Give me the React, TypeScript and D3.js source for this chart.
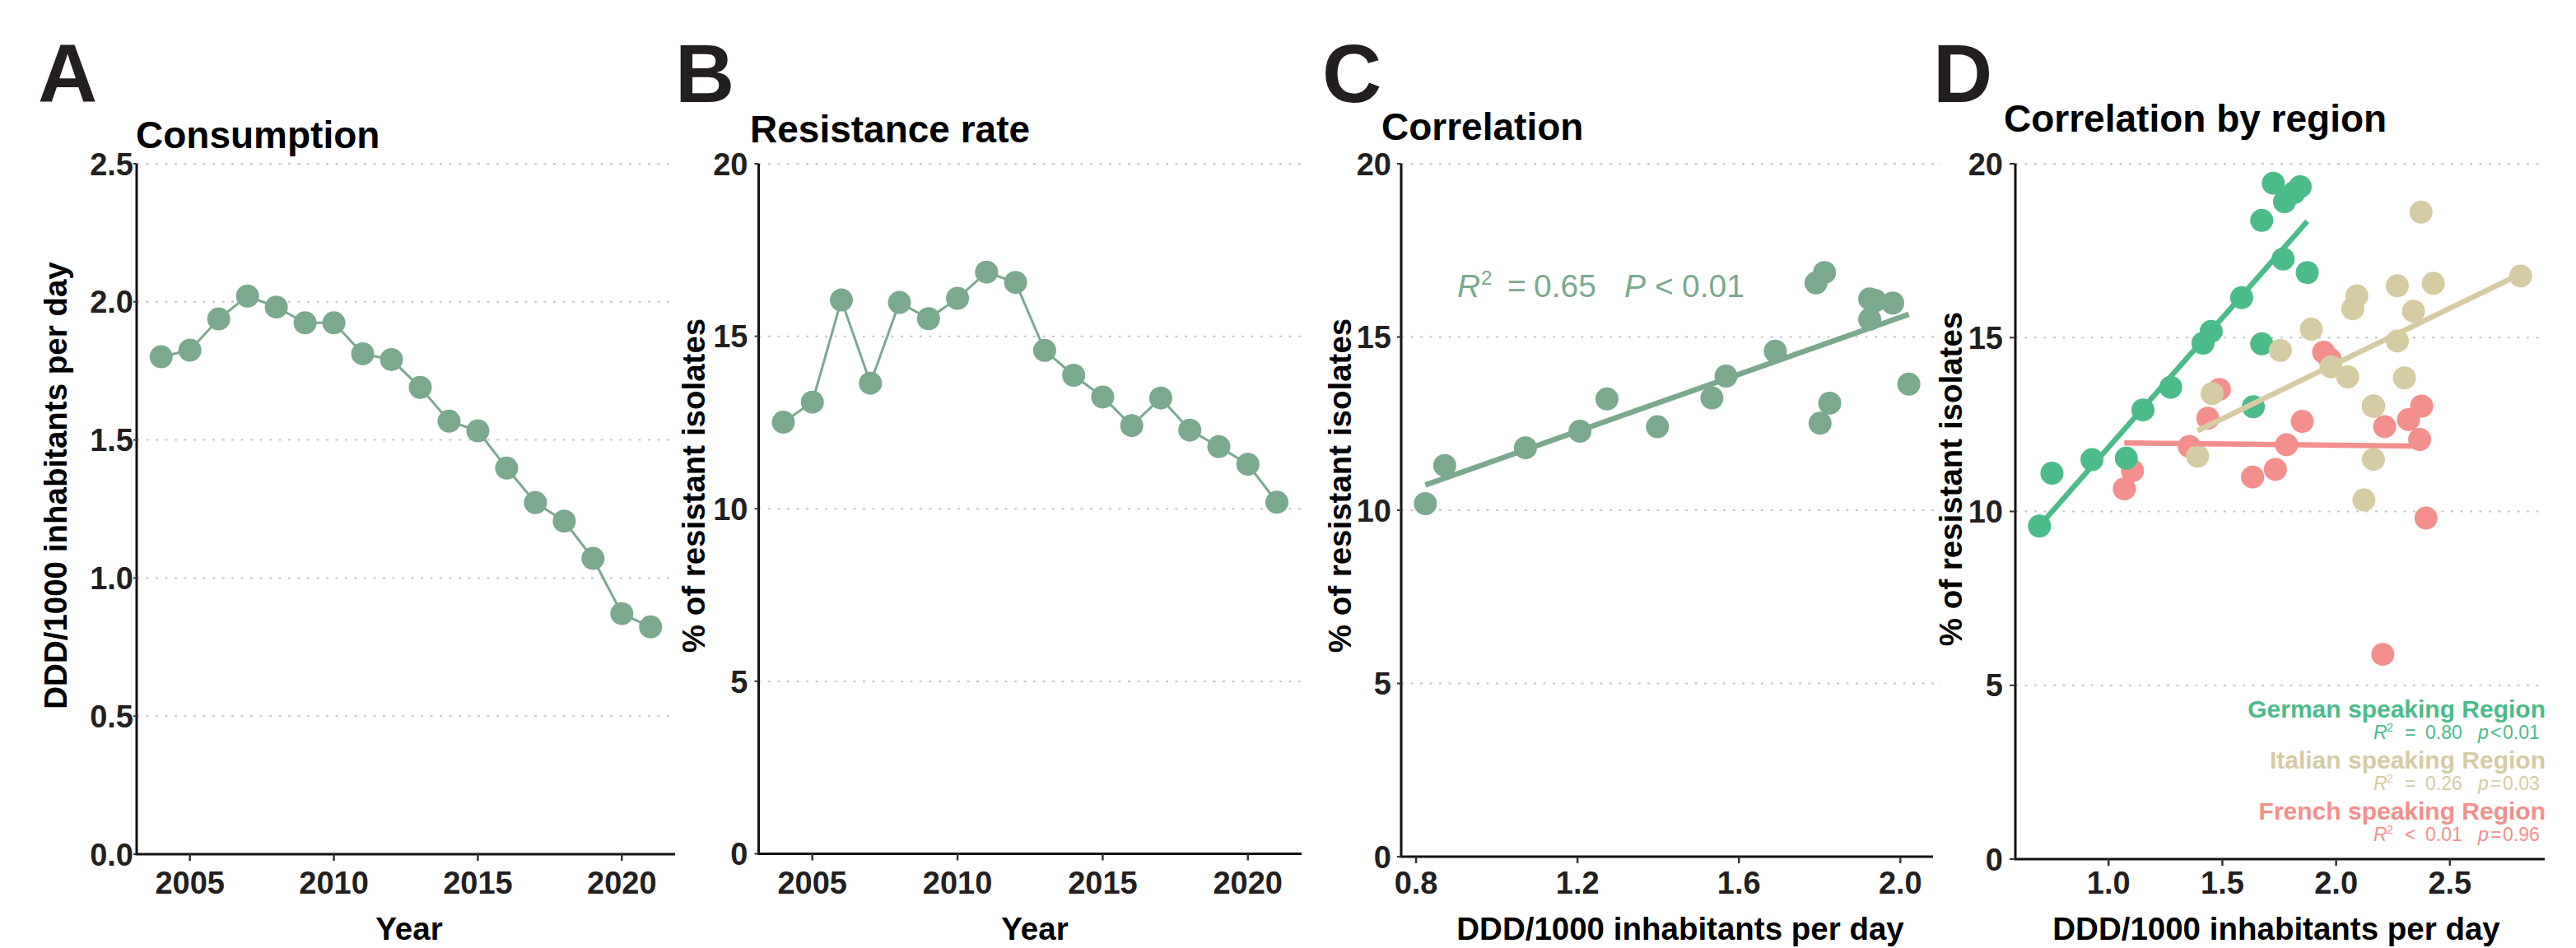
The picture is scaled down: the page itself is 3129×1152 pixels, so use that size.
import React from 'react';
import * as d3 from 'd3';

// ---- data ----
const years = [2004, 2005, 2006, 2007, 2008, 2009, 2010, 2011, 2012, 2013, 2014, 2015, 2016, 2017, 2018, 2019, 2020, 2021];
const consumption = [1.801, 1.825, 1.938, 2.021, 1.981, 1.924, 1.924, 1.812, 1.791, 1.690, 1.568, 1.533, 1.398, 1.273, 1.206, 1.071, 0.871, 0.823];
const resistance = [12.51, 13.09, 16.05, 13.64, 15.98, 15.51, 16.10, 16.86, 16.56, 14.59, 13.87, 13.24, 12.41, 13.21, 12.28, 11.80, 11.29, 10.19];

const germanX = [1.724, 1.773, 1.815, 1.842, 1.673, 1.767, 1.873, 1.585, 1.451, 1.415, 1.673, 1.273, 1.151, 1.636, 0.927, 1.078, 0.751, 0.696];
const germanY = [19.44, 18.91, 19.17, 19.34, 18.37, 17.26, 16.87, 16.15, 15.18, 14.84, 14.82, 13.57, 12.92, 13.01, 11.49, 11.53, 11.10, 9.58];
const italianX = [2.373, 2.811, 2.269, 2.427, 2.091, 2.073, 2.340, 1.891, 1.755, 2.269, 1.978, 2.051, 2.300, 1.455, 2.164, 1.391, 2.164, 2.122];
const italianY = [18.61, 16.77, 16.49, 16.56, 16.20, 15.83, 15.76, 15.24, 14.63, 14.90, 14.16, 13.87, 13.84, 13.39, 13.03, 11.59, 11.50, 10.33];
const frenchX = [1.945, 1.973, 1.487, 1.436, 1.851, 2.164, 2.376, 2.213, 2.318, 2.367, 1.355, 1.782, 1.105, 1.733, 1.633, 1.069, 2.395, 2.205];
const frenchY = [14.58, 14.38, 13.51, 12.68, 12.59, 13.03, 13.03, 12.44, 12.64, 12.07, 11.87, 11.92, 11.17, 11.21, 10.99, 10.65, 9.81, 5.89];

const yearTicks = [2005, 2010, 2015, 2020];
const consTicks = [0, 0.5, 1.0, 1.5, 2.0, 2.5];
const resTicks = [0, 5, 10, 15, 20];
const dddTicksC = [0.8, 1.2, 1.6, 2.0];
const dddTicksD = [1.0, 1.5, 2.0, 2.5];

const regions = [
  { name: 'French speaking Region', xs: frenchX, ys: frenchY, color: '#F38F8D', r2: ['<', '0.01'], p: ['=', '0.96'] },
  { name: 'German speaking Region', xs: germanX, ys: germanY, color: '#4BBB89', r2: ['=', '0.80'], p: ['<', '0.01'] },
  { name: 'Italian speaking Region', xs: italianX, ys: italianY, color: '#D6CCA4', r2: ['=', '0.26'], p: ['=', '0.03'] },
];
const legendOrder = ['German speaking Region', 'Italian speaking Region', 'French speaking Region'];

const MAIN = '#7BA98E';
const FONT = "'Liberation Sans', Arial, Helvetica, sans-serif";
const INK = '#231F20';

function expand(ext: number[]) {
  const d = (ext[1] - ext[0]) * 0.05;
  return [ext[0] - d, ext[1] + d];
}

function linFit(xs: number[], ys: number[]) {
  const mx = d3.mean(xs) as number;
  const my = d3.mean(ys) as number;
  let sxy = 0, sxx = 0;
  xs.forEach((x, i) => { sxy += (x - mx) * (ys[i] - my); sxx += (x - mx) * (x - mx); });
  const slope = sxy / sxx;
  return { slope, intercept: my - slope * mx };
}

function Frame({ x, y, xTicks, yTicks, xFmt, yFmt, gridRight, yGap, yTickLen }: any) {
  const [xl, xr] = x.range();
  const yb = y(0);
  const yt = y(d3.max(yTicks));
  return (
    <g fontFamily={FONT} fontWeight="bold" fill={INK}>
      {yTicks.filter((t: number) => t !== 0).map((t: number) => (
        <line key={'g' + t} x1={xl} x2={gridRight} y1={y(t)} y2={y(t)} stroke="#c6c6c6" strokeWidth={2} strokeDasharray="3 8.5" />
      ))}
      <line x1={xl} x2={xl} y1={yb} y2={yt} stroke="#111" strokeWidth={3} />
      <line x1={xl - 1.5} x2={xr} y1={yb} y2={yb} stroke="#111" strokeWidth={3} />
      {yTicks.map((t: number) => (
        <g key={'y' + t}>
          <line x1={xl - yTickLen} x2={xl} y1={y(t)} y2={y(t)} stroke="#333" strokeWidth={2} />
          <text x={xl - yGap} y={y(t)} dy="0.36em" textAnchor="end" fontSize={38}>{yFmt(t)}</text>
        </g>
      ))}
      {xTicks.map((t: number) => (
        <g key={'x' + t}>
          <line x1={x(t)} x2={x(t)} y1={yb} y2={yb + 8} stroke="#333" strokeWidth={2.5} />
          <text x={x(t)} y={1086} textAnchor="middle" fontSize={38}>{xFmt(t)}</text>
        </g>
      ))}
    </g>
  );
}

function Labels({ letter, letterX, title, titleX, titleY, yTitle, yTitleX, yTitleY, xTitle, xTitleX }: any) {
  return (
    <g fontFamily={FONT} fontWeight="bold">
      <text x={letterX} y={124} fontSize={100} fill={INK}>{letter}</text>
      <text x={titleX} y={titleY} fontSize={46} fill="#000">{title}</text>
      <text transform={`translate(${yTitleX},${yTitleY}) rotate(-90)`} textAnchor="middle" fontSize={38.5} fill="#000">{yTitle}</text>
      <text x={xTitleX} y={1142} textAnchor="middle" fontSize={38.5} fill="#000">{xTitle}</text>
    </g>
  );
}

// stats text "R² op val   p op val", each piece placed at its own x
function Stats({ x, y, size, color, r2op, r2val, pLetter, pop, pval, offs }: any) {
  return (
    <text y={y} fontFamily={FONT} fontSize={size} fill={color}>
      <tspan x={x + offs[0]} fontStyle="italic">R</tspan>
      <tspan x={x + offs[1]} fontSize={size * 0.62} dy={-size * 0.38}>2</tspan>
      <tspan x={x + offs[2]} dy={size * 0.38}>{r2op}</tspan>
      <tspan x={x + offs[3]}>{r2val}</tspan>
      <tspan x={x + offs[4]} fontStyle="italic">{pLetter}</tspan>
      <tspan x={x + offs[5]}>{pop}</tspan>
      <tspan x={x + offs[6]}>{pval}</tspan>
    </text>
  );
}

export default function App() {
  const f1 = d3.format('.1f');
  const f0 = d3.format('d');

  // Panel A
  const xA = d3.scaleLinear().domain(expand(d3.extent(years) as number[])).range([166, 820]);
  const yA = d3.scaleLinear().domain([0, 2.5]).range([1038, 199]);
  const lineA = d3.line<number>().x((_, i) => xA(years[i])).y(d => yA(d));

  // Panel B
  const xB = d3.scaleLinear().domain(expand(d3.extent(years) as number[])).range([921.5, 1581]);
  const yB = d3.scaleLinear().domain([0, 20]).range([1037.5, 199]);
  const lineB = d3.line<number>().x((_, i) => xB(years[i])).y(d => yB(d));

  // Panel C
  const extC = d3.extent(consumption) as number[];
  const xC = d3.scaleLinear().domain(expand(extC)).range([1702, 2348]);
  const yC = d3.scaleLinear().domain([0, 20]).range([1041, 199]);
  const fitC = linFit(consumption, resistance);

  // Panel D
  const allDX = [...germanX, ...italianX, ...frenchX];
  const xD = d3.scaleLinear().domain(expand(d3.extent(allDX) as number[])).range([2448, 3091]);
  const yD = d3.scaleLinear().domain([0, 20]).range([1044, 199]);

  return (
    <svg width={3129} height={1152} viewBox="0 0 3129 1152" style={{ position: 'absolute', left: 0, top: 0, background: '#fff' }}>
      <rect width={3129} height={1152} fill="#fff" />

      {/* A */}
      <Frame x={xA} y={yA} xTicks={yearTicks} yTicks={consTicks} xFmt={f0} yFmt={f1} gridRight={818} yGap={4} yTickLen={4} />
      <path d={lineA(consumption) as string} fill="none" stroke={MAIN} strokeWidth={3} />
      {consumption.map((v, i) => <circle key={i} cx={xA(years[i])} cy={yA(v)} r={14} fill={MAIN} />)}
      <Labels letter="A" letterX={46} title="Consumption" titleX={165} titleY={180}
        yTitle="DDD/1000 inhabitants per day" yTitleX={81} yTitleY={590} xTitle="Year" xTitleX={497} />

      {/* B */}
      <Frame x={xB} y={yB} xTicks={yearTicks} yTicks={resTicks} xFmt={f0} yFmt={f0} gridRight={1581} yGap={13} yTickLen={5} />
      <path d={lineB(resistance) as string} fill="none" stroke={MAIN} strokeWidth={3} />
      {resistance.map((v, i) => <circle key={i} cx={xB(years[i])} cy={yB(v)} r={14} fill={MAIN} />)}
      <Labels letter="B" letterX={820} title="Resistance rate" titleX={911} titleY={173}
        yTitle="% of resistant isolates" yTitleX={856} yTitleY={590} xTitle="Year" xTitleX={1257} />

      {/* C */}
      <Frame x={xC} y={yC} xTicks={dddTicksC} yTicks={resTicks} xFmt={f1} yFmt={f0} gridRight={2358} yGap={12} yTickLen={5} />
      {consumption.map((v, i) => <circle key={i} cx={xC(v)} cy={yC(resistance[i])} r={14} fill={MAIN} />)}
      <line x1={xC(extC[0])} x2={xC(extC[1])} y1={yC(fitC.intercept + fitC.slope * extC[0])} y2={yC(fitC.intercept + fitC.slope * extC[1])}
        stroke={MAIN} strokeWidth={6.5} />
      <Stats x={1770} y={361} size={39} color={MAIN} r2op="=" r2val="0.65" pLetter="P" pop="<" pval="0.01"
        offs={[0, 29, 61, 93, 203, 240, 273]} />
      <Labels letter="C" letterX={1606} title="Correlation" titleX={1678} titleY={170}
        yTitle="% of resistant isolates" yTitleX={1641} yTitleY={590} xTitle="DDD/1000 inhabitants per day" xTitleX={2041} />

      {/* D */}
      <Frame x={xD} y={yD} xTicks={dddTicksD} yTicks={resTicks} xFmt={f1} yFmt={f0} gridRight={3085} yGap={15} yTickLen={7} />
      {regions.map(rg => (
        <g key={rg.name}>
          {rg.xs.map((v, i) => <circle key={i} cx={xD(v)} cy={yD(rg.ys[i])} r={14} fill={rg.color} />)}
        </g>
      ))}
      {regions.map(rg => {
        const ft = linFit(rg.xs, rg.ys);
        const ex = d3.extent(rg.xs) as number[];
        return <line key={'l' + rg.name} x1={xD(ex[0])} x2={xD(ex[1])} y1={yD(ft.intercept + ft.slope * ex[0])} y2={yD(ft.intercept + ft.slope * ex[1])}
          stroke={rg.color} strokeWidth={6.5} />;
      })}
      {legendOrder.map((nm, k) => {
        const rg = regions.find(r => r.name === nm)!;
        const base = 871.5 + k * 62;
        return (
          <g key={'lg' + nm}>
            <text x={3092} y={base} textAnchor="end" fontFamily={FONT} fontSize={30} fontWeight="bold" fill={rg.color}>{nm}</text>
            <Stats x={2883} y={base + 26} size={23} color={rg.color} r2op={rg.r2[0]} r2val={rg.r2[1]} pLetter="p" pop={rg.p[0]} pval={rg.p[1]}
              offs={[0, 16, 38, 63, 127, 142, 157]} />
          </g>
        );
      })}
      <Labels letter="D" letterX={2348} title="Correlation by region" titleX={2434} titleY={160}
        yTitle="% of resistant isolates" yTitleX={2383} yTitleY={582} xTitle="DDD/1000 inhabitants per day" xTitleX={2765} />
    </svg>
  );
}
